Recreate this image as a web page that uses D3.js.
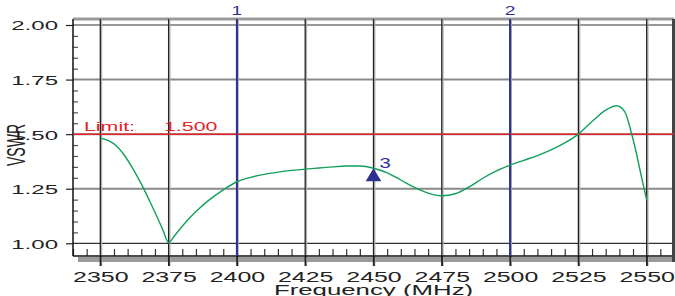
<!DOCTYPE html>
<html>
<head>
<meta charset="utf-8">
<script src="https://d3js.org/d3.v7.min.js"></script>
<style>
  body { margin: 0; background: #fff; }
  svg text { font-family: "Liberation Sans", Arial, sans-serif; }
</style>
</head>
<body>
<svg id="chart" width="675" height="296"></svg>
<script>
const freq = [2350, 2353, 2356, 2359, 2362, 2365, 2368, 2371, 2373, 2375, 2377, 2380, 2383, 2386, 2390, 2395,
              2400, 2405, 2410, 2415, 2420, 2425, 2430, 2435, 2440, 2445, 2450, 2455, 2460, 2465, 2470, 2475,
              2480, 2485, 2490, 2495, 2500, 2505, 2510, 2515, 2520, 2525, 2530, 2535, 2539, 2542, 2544, 2546,
              2548, 2550];
const vswr = [1.482, 1.470, 1.445, 1.400, 1.340, 1.272, 1.195, 1.115, 1.058, 1.003, 1.032, 1.078, 1.120, 1.157, 1.200, 1.245,
              1.282, 1.302, 1.316, 1.326, 1.334, 1.340, 1.345, 1.350, 1.354, 1.354, 1.344, 1.323, 1.290, 1.256, 1.230, 1.218,
              1.227, 1.258, 1.298, 1.332, 1.358, 1.380, 1.402, 1.428, 1.460, 1.500, 1.558, 1.610, 1.630, 1.602, 1.525, 1.425,
              1.310, 1.198];

const xTicks = [2350, 2375, 2400, 2425, 2450, 2475, 2500, 2525, 2550];
const yTicks = [1.00, 1.25, 1.50, 1.75, 2.00];
const limit = 1.5;
const markers = [{ id: "1", f: 2400 }, { id: "2", f: 2500 }];
const marker3 = { id: "3", f: 2450, v: 1.344 };

const svg = d3.select("#chart");
const pLeft = 73, pRight = 674, pTop = 19, pBottom = 256;
const SX = 1.78; // the original text is stretched sideways

const x = d3.scaleLinear().domain([2340, 2560]).range([pLeft, pRight]);
const y = d3.scaleLinear().domain([1, 2]).range([243.3, 25]);

const green = "#11a05a", blue = "#2e3192", red = "#e52229";

// frame bars
svg.append("rect").attr("x", pLeft).attr("y", 17.5).attr("width", pRight - pLeft).attr("height", 3).attr("fill", "#9a9a9a");
svg.append("rect").attr("x", 78).attr("y", 257).attr("width", pRight - 78).attr("height", 5).attr("fill", "#9a9a9a");

// horizontal grid
svg.append("g").selectAll("line").data(yTicks).join("line")
    .attr("x1", pLeft).attr("x2", pRight)
    .attr("y1", d => y(d)).attr("y2", d => y(d))
    .attr("stroke", d => (d === 1 || d === 2) ? "#333" : "#8a8a8a")
    .attr("stroke-width", d => (d === 1 || d === 2) ? 1.2 : 2);

// vertical grid, black with a grey shade on the right
const vg = svg.append("g");
vg.selectAll("line.sh").data(xTicks).join("line").attr("class", "sh")
    .attr("x1", d => x(d) + 1.3).attr("x2", d => x(d) + 1.3)
    .attr("y1", pTop).attr("y2", 266)
    .attr("stroke", "#b0b0b0").attr("stroke-width", 1.2);
vg.selectAll("line.gl").data(xTicks).join("line").attr("class", "gl")
    .attr("x1", d => x(d)).attr("x2", d => x(d))
    .attr("y1", pTop).attr("y2", 266)
    .attr("stroke", "#222").attr("stroke-width", 1.3);

// minor ticks
const xMinor = d3.range(2340, 2561, 5).filter(f => f % 25 !== 0);
const yMinor = d3.range(1, 2.001, 0.05).map(v => +v.toFixed(2)).filter(v => !yTicks.includes(v));

svg.append("g").attr("transform", `translate(0,${pBottom})`)
    .call(d3.axisTop(x).tickValues(xMinor).tickSize(7).tickFormat(""))
    .call(g => g.select(".domain").remove())
    .selectAll("line").attr("stroke", "#333").attr("stroke-width", 1.2);

svg.append("g").attr("transform", `translate(${pLeft},0)`)
    .call(d3.axisRight(y).tickValues(yMinor).tickSize(5).tickFormat(""))
    .call(g => g.select(".domain").remove())
    .selectAll("line").attr("stroke", "#555").attr("stroke-width", 1.2);

// main axes
const yAxis = svg.append("g").attr("transform", `translate(${pLeft},0)`)
    .call(d3.axisLeft(y).tickValues(yTicks).tickSize(7).tickPadding(8).tickFormat(d3.format(".2f")));
yAxis.select(".domain").remove();
yAxis.selectAll("line").attr("stroke", "#222").attr("stroke-width", 1.2);
yAxis.selectAll("text")
    .attr("x", -15 / SX).attr("dy", "0.36em")
    .attr("transform", `scale(${SX},1)`)
    .attr("font-size", 13.5).attr("fill", "#222");

const xAxis = svg.append("g").attr("transform", `translate(0,${pBottom})`)
    .call(d3.axisBottom(x).tickValues(xTicks).tickSize(10).tickPadding(6).tickFormat(d3.format("d")));
xAxis.select(".domain").remove();
xAxis.selectAll("line").attr("stroke", "#222").attr("stroke-width", 1.3);
xAxis.selectAll("text")
    .attr("transform", `scale(${SX},1)`)
    .attr("font-size", 14).attr("fill", "#222");

svg.append("line").attr("x1", pLeft).attr("x2", pLeft).attr("y1", pTop).attr("y2", pBottom)
    .attr("stroke", "#111").attr("stroke-width", 1.5);
svg.append("line").attr("x1", pLeft).attr("x2", pRight).attr("y1", pBottom).attr("y2", pBottom)
    .attr("stroke", "#111").attr("stroke-width", 1.5);
svg.append("rect").attr("x", 672).attr("y", pTop).attr("width", 3).attr("height", 262 - pTop).attr("fill", "#444");

// axis titles
svg.append("text")
    .attr("transform", `translate(${(pLeft + pRight) / 2},295) scale(${SX},1)`)
    .attr("text-anchor", "middle").attr("font-size", 14.5).attr("fill", "#222")
    .text("Frequency (MHz)");
svg.append("text")
    .attr("transform", `translate(25,145) scale(${SX},1) rotate(-90)`)
    .attr("text-anchor", "middle").attr("font-size", 14).attr("fill", "#222")
    .text("VSWR");

// limit line
svg.append("line").attr("x1", pLeft).attr("x2", pRight)
    .attr("y1", y(limit)).attr("y2", y(limit))
    .attr("stroke", red).attr("stroke-width", 1.5);
svg.append("text")
    .attr("transform", `translate(84,131) scale(${SX},1)`)
    .attr("font-size", 12).attr("fill", red).text("Limit:");
svg.append("text")
    .attr("transform", `translate(164,131) scale(${SX},1)`)
    .attr("font-size", 12).attr("fill", red).text(d3.format(".3f")(limit));

// marker lines
svg.append("g").selectAll("line").data(markers).join("line")
    .attr("x1", d => x(d.f)).attr("x2", d => x(d.f))
    .attr("y1", pTop).attr("y2", pBottom)
    .attr("stroke", blue).attr("stroke-width", 2);
svg.append("g").selectAll("text").data(markers).join("text")
    .attr("transform", d => `translate(${x(d.f)},15) scale(1.6,1)`)
    .attr("text-anchor", "middle").attr("font-size", 12).attr("fill", blue)
    .text(d => d.id);

// trace
const line = d3.line().x((d, i) => x(freq[i])).y(d => y(d)).curve(d3.curveMonotoneX);
svg.append("path").datum(vswr)
    .attr("d", line).attr("fill", "none")
    .attr("stroke", green).attr("stroke-width", 1.4);

// marker 3 triangle
const mx = x(marker3.f), my = y(marker3.v);
svg.append("path")
    .attr("d", `M${mx},${my} L${mx + 7.8},${my + 13} L${mx - 7.8},${my + 13} Z`)
    .attr("fill", blue);
svg.append("text")
    .attr("transform", `translate(${mx + 6},168) scale(1.45,1)`)
    .attr("font-size", 14).attr("fill", blue).text(marker3.id);
</script>
</body>
</html>
